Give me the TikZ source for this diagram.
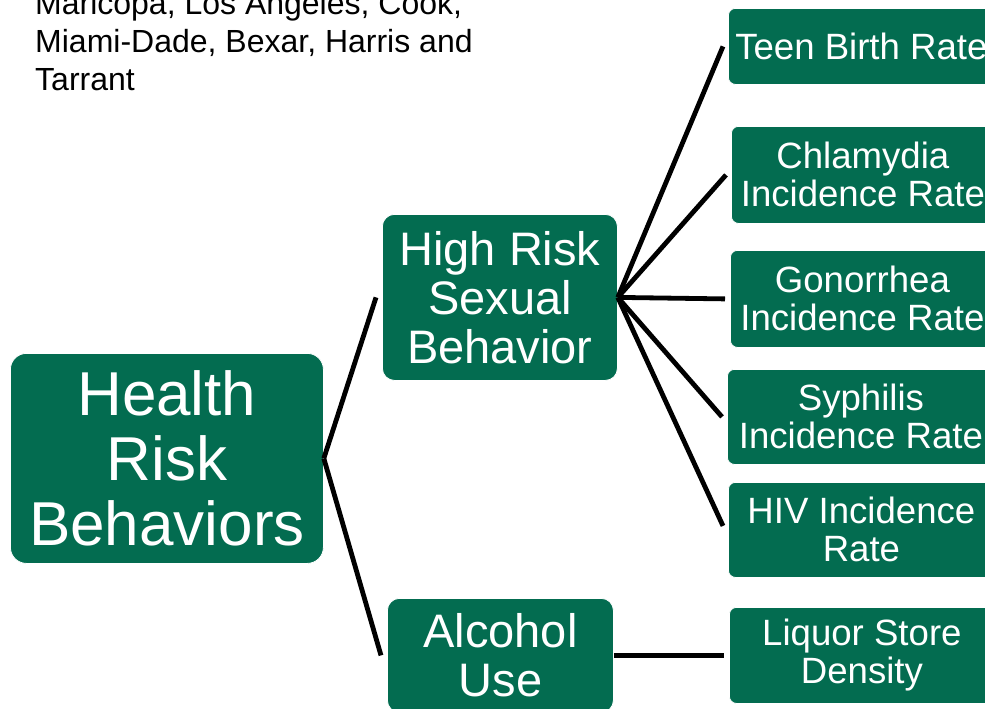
\documentclass[tikz,border=0pt]{standalone}
\usepackage{fontspec}
\setmainfont{Liberation Sans}
\usetikzlibrary{calc}
\definecolor{boxgreen}{RGB}{3,108,80}
\begin{document}
\begin{tikzpicture}[x=1pt,y=-1pt,
  gbox/.style={fill=boxgreen, draw=white, line width=0.8pt, text=white, align=center,
    inner sep=0pt, anchor=north west, rounded corners=7pt},
  bigtxt/.style={font=\fontsize{62}{65}\selectfont},
  midtxt/.style={font=\fontsize{47}{49}\selectfont},
  smalltxt/.style={font=\fontsize{36.6}{38}\selectfont},
  conn/.style={draw=black, line width=4.8pt}]
\useasboundingbox (0,0) rectangle (985,709);
\begin{scope}
\clip (0,0) rectangle (985,709);
% note text
\node[anchor=north west, align=left, inner sep=0pt, font=\fontsize{32}{38}\selectfont] (note) at (35,-9.3)
  {Maricopa, Los Angeles, Cook,\\Miami-Dade, Bexar, Harris and\\Tarrant};
% boxes
\node[gbox, bigtxt, rounded corners=16pt, minimum width=313pt, minimum height=210pt] (health) at (10,353) {Health\\Risk\\Behaviors};
\node[gbox, midtxt, rounded corners=12pt, minimum width=235pt, minimum height=166pt] (hrsb) at (382,214) {High Risk\\Sexual\\Behavior};
\node[gbox, midtxt, rounded corners=12pt, minimum width=226pt, minimum height=114pt] (alc) at (387,598) {Alcohol\\Use};
\node[gbox, smalltxt, minimum width=266pt, minimum height=76pt] (teen) at (728,8) {Teen Birth Rate};
\node[gbox, smalltxt, minimum width=263pt, minimum height=97pt] (chla) at (731,126) {Chlamydia\\Incidence Rate};
\node[gbox, smalltxt, minimum width=264pt, minimum height=97pt] (gono) at (730,250) {Gonorrhea\\Incidence Rate};
\node[gbox, smalltxt, minimum width=267pt, minimum height=95pt] (syph) at (727,369) {Syphilis\\Incidence Rate};
\node[gbox, smalltxt, minimum width=266pt, minimum height=95pt] (hiv) at (728,482) {HIV Incidence\\Rate};
\node[gbox, smalltxt, minimum width=265pt, minimum height=96pt] (liq) at (729,607) {Liquor Store\\Density};
% connector ends
\coordinate (hrsbIn) at ($(hrsb.west)+(-6,0)$);
\coordinate (alcIn) at ($(alc.west)+(-6,0)$);
\coordinate (teenIn) at ($(teen.west)+(-5,0)$);
\coordinate (chlaIn) at ($(chla.west)+(-5,0)$);
\coordinate (gonoIn) at ($(gono.west)+(-5,0)$);
\coordinate (syphIn) at ($(syph.west)+(-5,0)$);
\coordinate (hivIn) at ($(hiv.west)+(-5,-4)$);
\coordinate (liqIn) at ($(liq.west)+(-5,0)$);
% connectors
\draw[conn] (health.east) -- (hrsbIn);
\draw[conn] (health.east) -- (alcIn);
\draw[conn] (hrsb.east) -- (teenIn);
\draw[conn] (hrsb.east) -- (chlaIn);
\draw[conn] (hrsb.east) -- (gonoIn);
\draw[conn] (hrsb.east) -- (syphIn);
\draw[conn] (hrsb.east) -- (hivIn);
\draw[conn] (alc.east) -- (liqIn);
\end{scope}
\end{tikzpicture}
\end{document}
